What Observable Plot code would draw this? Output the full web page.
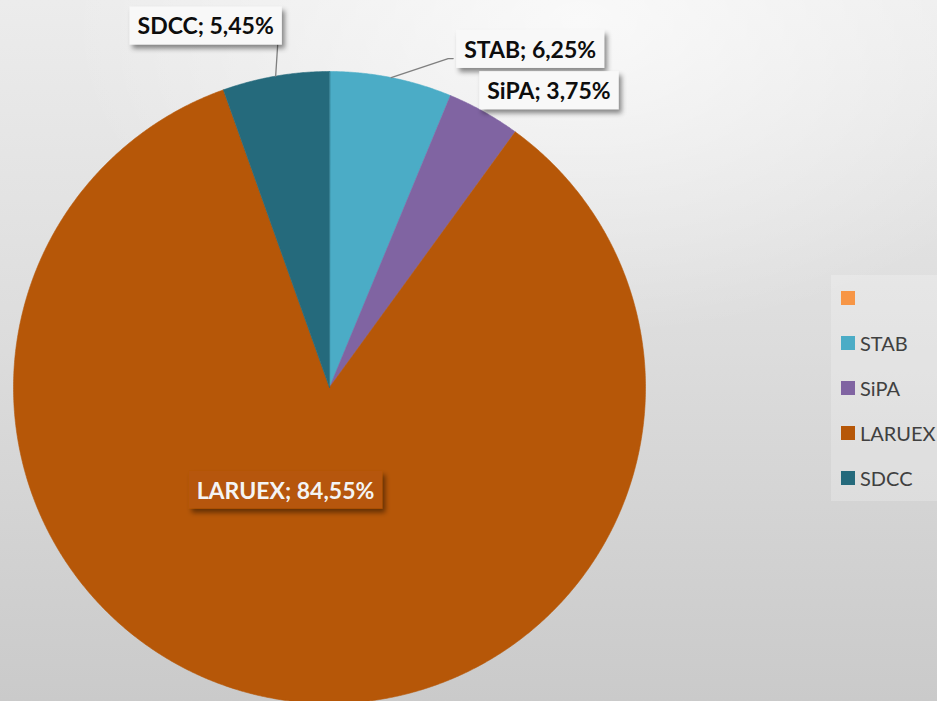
<!DOCTYPE html>
<html>
<head>
<meta charset="utf-8">
<script src="https://cdn.jsdelivr.net/npm/d3@7"></script>
<script src="https://cdn.jsdelivr.net/npm/@observablehq/plot@0.6"></script>
<style>
html, body { margin: 0; padding: 0; overflow: hidden; }
#wrap {
  position: relative; width: 937px; height: 701px; overflow: hidden;
  background:
    radial-gradient(ellipse 55% 45% at 62% 3%, rgba(255,255,255,0.7), rgba(255,255,255,0) 100%),
    linear-gradient(180deg, #ececec 0%, #dcdcdc 50%, #cacaca 100%);
}
#chart { position: absolute; left: 0; top: 0; }
#legend {
  position: absolute; left: 831px; top: 275px; width: 120px; height: 226px;
  background: rgba(255,255,255,0.22);
  font-family: Lato, "Open Sans", sans-serif; font-size: 20px; color: #404040;
}
.item { position: absolute; left: 10px; height: 20px; display: flex; align-items: center; }
.sw { width: 14px; height: 14px; margin-right: 5px; }
</style>
</head>
<body>
<div id="wrap">
  <div id="chart"></div>
  <div id="legend"></div>
</div>
<script>
// ---- data ----
const categories = ["", "STAB", "SiPA", "LARUEX", "SDCC"];
const values = [0, 6.25, 3.75, 84.55, 5.45];
const colors = ["#F79646", "#4BACC6", "#8064A2", "#B65708", "#256A7C"];

// ---- layout ----
const W = 937, H = 701, cx = 329, cy = 387, R = 316;
// label offsets (px) from the slice's outer-arc midpoint
const labelOffset = { STAB: [139, -27], SiPA: [65, -20], LARUEX: [1, -209], SDCC: [-70, -49] };
const leaderEnds = { STAB: [[-82, 8], [-77, 8]], SDCC: [[72, 18]] };
const insideLabels = ["LARUEX"];

const rows = categories.map((name, i) => ({ name, value: values[i] }));
const arcs = d3.pie().sort(null).value(d => d.value)(rows);

const points = [];
const labels = [];
const leaders = [];
for (const a of arcs) {
  if (a.endAngle - a.startAngle <= 0) continue;
  const name = a.data.name;
  points.push({ name, x: 0, y: 0 });
  const n = Math.max(4, Math.ceil((a.endAngle - a.startAngle) / 0.005));
  for (let k = 0; k <= n; k++) {
    const t = a.startAngle + (a.endAngle - a.startAngle) * k / n;
    points.push({ name, x: Math.sin(t), y: Math.cos(t) });
  }
  const mid = (a.startAngle + a.endAngle) / 2;
  const mx = Math.sin(mid), my = Math.cos(mid);
  const off = labelOffset[name] || [0, 0];
  const lx = mx + off[0] / R, ly = my - off[1] / R;
  labels.push({
    name, x: lx, y: ly,
    text: `${name}; ${a.data.value.toFixed(2).replace(".", ",")}%`,
    inside: insideLabels.includes(name)
  });
  if (leaderEnds[name]) {
    leaders.push({ name, x: mx, y: my });
    for (const e of leaderEnds[name]) leaders.push({ name, x: lx + e[0] / R, y: ly - e[1] / R });
  }
}

const chart = Plot.plot({
  width: W, height: H,
  marginLeft: cx - R, marginRight: W - (cx + R), marginTop: cy - R, marginBottom: 0,
  x: { domain: [-1, 1], axis: null },
  y: { domain: [-(H - cy) / R, 1], axis: null },
  color: { domain: categories, range: colors },
  style: { background: "transparent", overflow: "visible" },
  marks: [
    Plot.line(points, { x: "x", y: "y", z: "name", fill: "name", stroke: "name", strokeWidth: 0.6, curve: "linear-closed" }),
    Plot.line(leaders, { x: "x", y: "y", z: "name", stroke: "#7f7f7f", strokeWidth: 1.3 }),
    Plot.text(labels.filter(d => !d.inside), { x: "x", y: "y", text: "text", fill: "#0d0d0d", fontSize: 23, fontWeight: 700, fontFamily: "Lato, 'Open Sans', sans-serif", className: "dlabel-out" }),
    Plot.text(labels.filter(d => d.inside), { x: "x", y: "y", text: "text", fill: "#f4f4f4", fontSize: 23, fontWeight: 700, fontFamily: "Lato, 'Open Sans', sans-serif", className: "dlabel-in" })
  ]
});
document.getElementById("chart").appendChild(chart);

// label boxes with drop shadow
const svg = d3.select(chart);
const defs = svg.insert("defs", ":first-child");
const f = defs.append("filter").attr("id", "lblshadow").attr("x", "-20%").attr("y", "-40%").attr("width", "150%").attr("height", "200%");
f.append("feDropShadow").attr("dx", 3).attr("dy", 4).attr("stdDeviation", 2.5).attr("flood-color", "#000").attr("flood-opacity", 0.45);
function boxes(cls, fill) {
  svg.selectAll(`g.${cls} text`).each(function () {
    const b = this.getBBox();
    d3.select(this.parentNode).insert("rect", () => this)
      .attr("transform", this.getAttribute("transform"))
      .attr("x", b.x - 8).attr("y", b.y - 5)
      .attr("width", b.width + 16).attr("height", b.height + 10)
      .attr("fill", fill).attr("filter", "url(#lblshadow)");
  });
}
boxes("dlabel-out", "#f8f8f8");
boxes("dlabel-in", colors[categories.indexOf("LARUEX")]);

// legend
const legend = d3.select("#legend");
categories.forEach((c, i) => {
  const it = legend.append("div").attr("class", "item").style("top", (13 + 45 * i) + "px");
  it.append("div").attr("class", "sw").style("background", colors[i]);
  it.append("span").text(c);
});
</script>
</body>
</html>
